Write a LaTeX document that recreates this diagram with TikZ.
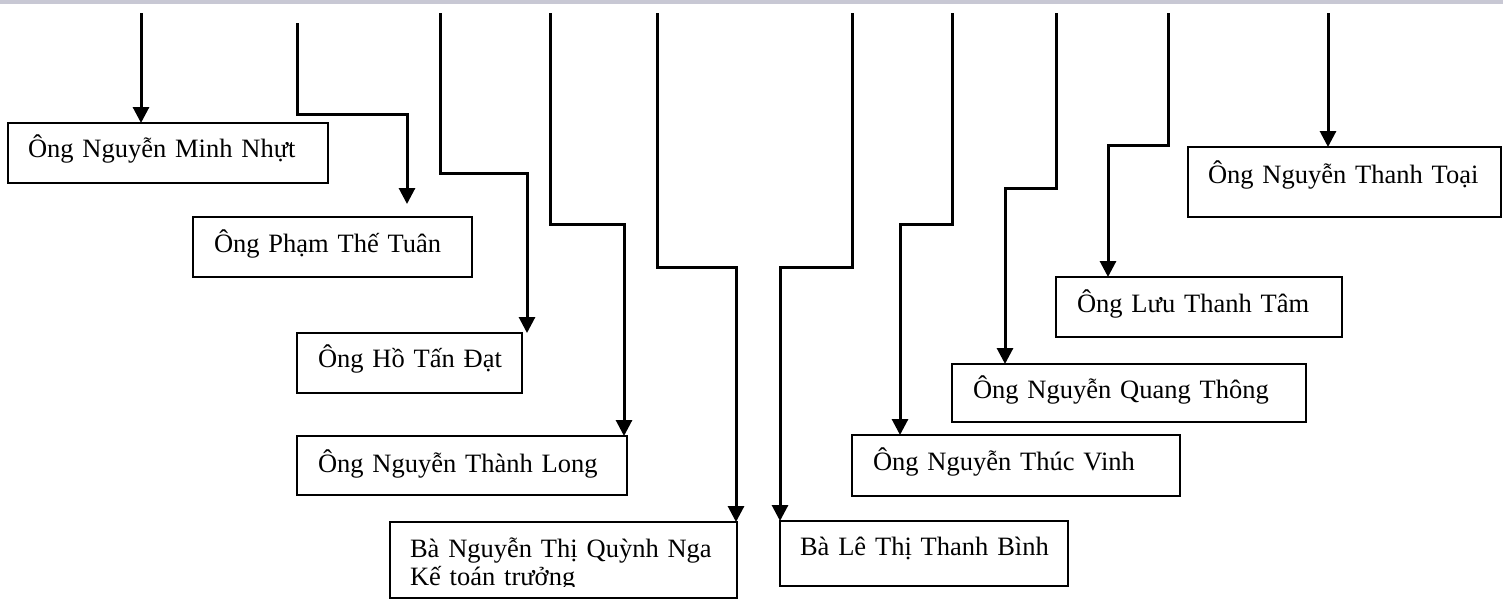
\documentclass[tikz,border=0pt]{standalone}
\usepackage{fontspec}
\setmainfont{Liberation Serif}
\usetikzlibrary{arrows.meta,calc}
\begin{document}
\begin{tikzpicture}[x=1pt,y=-1pt,
  box/.style={draw, line width=2.2pt, anchor=north west, inner ysep=0pt, inner xsep=20pt,
    align=left, outer sep=0pt, font=\fontsize{26.5}{28}\selectfont},
  arr/.style={line width=3pt, -{Triangle[width=16pt,length=16pt]}},
  topband/.style={fill={rgb,255:red,200;green,200;blue,212}}]
\useasboundingbox (0,0) rectangle (1503,608);
\fill[topband] (0,0) rectangle (1503,4);

% boxes
\node[box, text width=280pt, minimum width=320pt, text height=34pt, text depth=26pt] (b1) at (8,123) {\mbox{Ông Nguyễn Minh Nhựt}};
\node[box, text width=237pt, minimum width=279pt, inner xsep=21pt, text height=35pt, text depth=25pt] (b2) at (193,217) {\mbox{Ông Phạm Thế Tuân}};
\node[box, text width=183pt, minimum width=225pt, inner xsep=21pt, text height=34pt, text depth=26pt] (b3) at (297,333) {\mbox{Ông Hồ Tấn Đạt}};
\node[box, text width=288pt, minimum width=330pt, inner xsep=21pt, text height=36pt, text depth=23pt] (b4) at (297,436) {\mbox{Ông Nguyễn Thành Long}};
\node[box, text width=307pt, minimum width=347pt, text height=35pt, text depth=41pt] (b5) at (390,522) {\mbox{Bà Nguyễn Thị Quỳnh Nga}\\\mbox{Kế toán trưởng}};
\node[box, text width=248pt, minimum width=288pt, text height=34pt, text depth=31pt] (b6) at (780,521) {\mbox{Bà Lê Thị Thanh Bình}};
\node[box, text width=286pt, minimum width=328pt, inner xsep=21pt, text height=35pt, text depth=26pt] (b7) at (852,435) {\mbox{Ông Nguyễn Thúc Vinh}};
\node[box, text width=312pt, minimum width=354pt, inner xsep=21pt, text height=34pt, text depth=24pt] (b8) at (952,364) {\mbox{Ông Nguyễn Quang Thông}};
\node[box, text width=244pt, minimum width=286pt, inner xsep=21pt, text height=35pt, text depth=25pt] (b9) at (1056,277) {\mbox{Ông Lưu Thanh Tâm}};
\node[box, text width=273pt, minimum width=313pt, text height=36pt, text depth=34pt] (b10) at (1188,147) {\mbox{Ông Nguyễn Thanh Toại}};

% clipped bottom of the two-line box
\fill[white] ($(b5.south west)+(1.3,-1.3)$) rectangle ($(b5.south east)+(-1.3,-11)$);

% connectors
\coordinate (s1) at (141,13);
\draw[arr] (s1) -- (s1 |- b1.north);

\coordinate (s2) at (297,23);
\coordinate (k2) at (297,114);
\coordinate (e2) at (407,204);
\draw[arr] (s2) -- (k2) -| (e2);

\coordinate (s3) at (440,13);
\coordinate (k3) at (440,173);
\coordinate (t3) at (527,0);
\draw[arr] (s3) -- (k3) -| (t3 |- b3.north);

\coordinate (s4) at (550,13);
\coordinate (k4) at (550,224);
\coordinate (t4) at (624,0);
\draw[arr] (s4) -- (k4) -| (t4 |- b4.north);

\coordinate (s5) at (657,13);
\coordinate (k5) at (657,267);
\coordinate (t5) at (736,0);
\draw[arr] (s5) -- (k5) -| (t5 |- b5.north);

\coordinate (s6) at (852,13);
\coordinate (k6) at (852,267);
\coordinate (t6) at (780,0);
\draw[arr] (s6) -- (k6) -| (t6 |- b6.north);

\coordinate (s7) at (952,13);
\coordinate (k7) at (952,224);
\coordinate (t7) at (900,0);
\draw[arr] (s7) -- (k7) -| (t7 |- b7.north);

\coordinate (s8) at (1056,13);
\coordinate (k8) at (1056,188);
\coordinate (t8) at (1005,0);
\draw[arr] (s8) -- (k8) -| (t8 |- b8.north);

\coordinate (s9) at (1168,13);
\coordinate (k9) at (1168,145);
\coordinate (t9) at (1108,0);
\draw[arr] (s9) -- (k9) -| (t9 |- b9.north);

\coordinate (s10) at (1328,13);
\draw[arr] (s10) -- (s10 |- b10.north);
\end{tikzpicture}
\end{document}
